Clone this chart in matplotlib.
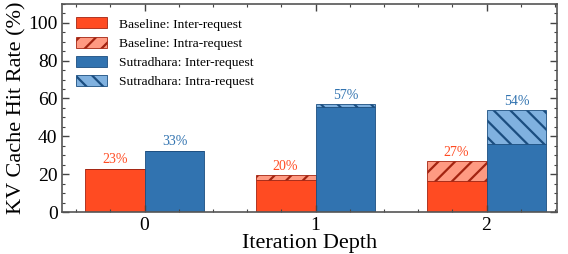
import numpy as np
import matplotlib
matplotlib.use("Agg")
import matplotlib.pyplot as plt
from matplotlib.ticker import MultipleLocator

plt.rcParams['font.family'] = ['Liberation Serif', 'DejaVu Serif']
plt.rcParams['hatch.linewidth'] = 1.6

# data
depths = [0, 1, 2]
base_inter = [23, 16.7, 16.5]
base_intra = [0, 2.8, 10.3]
sut_inter = [32.5, 55.5, 35.8]
sut_intra = [0, 1.5, 18.2]
base_labels = ["23%", "20%", "27%"]
sut_labels = ["33%", "57%", "54%"]

red = "#FF4B22"
red_light = "#FF9A82"
red_dark = "#A32411"
blue = "#3173B0"
blue_light = "#80B1DF"
blue_dark = "#1B4E80"

fig, ax = plt.subplots(figsize=(5.68, 2.54), dpi=100)
x = np.array(depths)
w = 0.35

ax.bar(x - w/2, base_inter, w, color=red, edgecolor=red_dark, linewidth=0.6,
       label="Baseline: Inter-request")
ax.bar(x - w/2, base_intra, w, bottom=base_inter, color=red_light, edgecolor=red_dark,
       hatch="//", linewidth=0.6, label="Baseline: Intra-request")
ax.bar(x + w/2, sut_inter, w, color=blue, edgecolor=blue_dark, linewidth=0.6,
       label="Sutradhara: Inter-request")
ax.bar(x + w/2, sut_intra, w, bottom=sut_inter, color=blue_light, edgecolor=blue_dark,
       hatch="\\\\", linewidth=0.6, label="Sutradhara: Intra-request")

for i in range(len(depths)):
    ax.text(x[i] - w/2, base_inter[i] + base_intra[i] + 1.2, base_labels[i],
            ha="center", va="bottom", color=red, fontsize=10)
    ax.text(x[i] + w/2, sut_inter[i] + sut_intra[i] + 1.2, sut_labels[i],
            ha="center", va="bottom", color=blue, fontsize=10)

ax.set_xlim(-0.48, 2.41)
ax.set_ylim(0, 110)
ax.set_xticks(depths)
ax.set_yticks([0, 20, 40, 60, 80, 100])
ax.xaxis.set_minor_locator(MultipleLocator(0.2))
ax.yaxis.set_minor_locator(MultipleLocator(5))
ax.tick_params(which="both", direction="in", top=True, right=True, labelsize=14,
               color="#444444")
ax.tick_params(which="major", length=5, width=1)
ax.tick_params(which="minor", length=2.5, width=0.8)
for s in ax.spines.values():
    s.set_color("#555555")
    s.set_linewidth(1.2)

ax.set_xlabel("Iteration Depth", fontsize=16, labelpad=0)
ax.set_ylabel("KV Cache Hit Rate (%)", fontsize=16, labelpad=1)

ax.legend(loc="upper left", frameon=False, fontsize=9.7, handlelength=2.3,
          handleheight=0.9, labelspacing=0.45, borderaxespad=0.6, handletextpad=0.9)

fig.subplots_adjust(left=0.11, right=0.98, top=0.985, bottom=0.165)
fig.savefig("out.png", dpi=100)
